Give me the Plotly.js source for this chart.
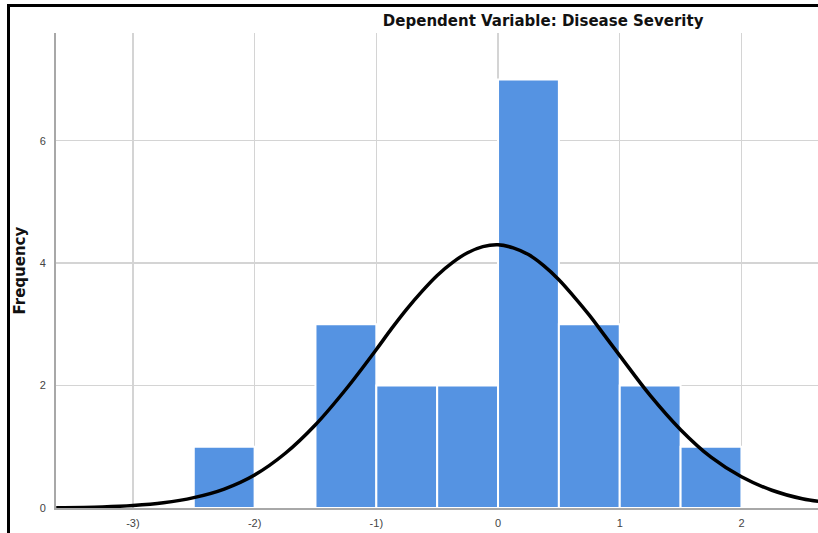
<!DOCTYPE html>
<html>
<head>
<meta charset="utf-8">
<script src="https://cdn.plot.ly/plotly-3.0.1.min.js"></script>
<style>
html,body{margin:0;padding:0;background:#fff;}
#wrap{position:relative;width:818px;height:533px;overflow:hidden;}
#chart{position:absolute;left:0;top:0;width:818px;height:533px;}
#frame{position:absolute;left:7px;top:4px;width:830px;height:560px;border-left:3px solid #000;border-top:3px solid #000;pointer-events:none;}
</style>
</head>
<body>
<div id="wrap"><div id="chart"></div><div id="frame"></div></div>
<script>
// Histogram bins (centers, width 0.5) and frequencies
const binCenters = [-2.25, -1.75, -1.25, -0.75, -0.25, 0.25, 0.75, 1.25, 1.75];
const frequencies = [1, 0, 3, 2, 2, 7, 3, 2, 1];
const binWidth = 0.5;

// Normal curve points
const curveX = [-3.63, -3.25, -3.0, -2.75, -2.5, -2.25, -2.0, -1.75, -1.5, -1.25, -1.0, -0.875, -0.75, -0.625, -0.5, -0.375, -0.25, -0.125, 0.0, 0.125, 0.25, 0.375, 0.5, 0.625, 0.75, 0.875, 1.0, 1.25, 1.5, 1.75, 2.0, 2.25, 2.5, 2.63];
const curveY = [0.005, 0.018, 0.04, 0.085, 0.17, 0.31, 0.54, 0.89, 1.36, 1.94, 2.59, 2.93, 3.25, 3.54, 3.80, 4.01, 4.17, 4.27, 4.30, 4.25, 4.14, 3.96, 3.73, 3.45, 3.15, 2.82, 2.49, 1.84, 1.28, 0.83, 0.51, 0.29, 0.15, 0.11];

// Tick labels
const xTickVals = [-3, -2, -1, 0, 1, 2];
const xTickText = ['-3)', '-2)', '-1)', '0', '1', '2'];
const yTickVals = [0, 2, 4, 6];

const titleText = 'Dependent Variable: Disease Severity';
const yTitleText = 'Frequency';

const font = 'Liberation Sans, Arial, sans-serif';
const titleFont = 'DejaVu Sans, Verdana, sans-serif';

const traces = [
  {
    type: 'bar',
    x: binCenters,
    y: frequencies,
    width: binCenters.map(() => binWidth),
    marker: {color: '#5593e2', line: {color: '#ffffff', width: 2}},
    hoverinfo: 'skip'
  },
  {
    type: 'scatter',
    mode: 'lines',
    x: curveX,
    y: curveY,
    line: {color: '#000000', width: 3.5, shape: 'spline', smoothing: 1.0},
    hoverinfo: 'skip'
  }
];

const layout = {
  width: 818,
  height: 533,
  margin: {l: 56, r: 0, t: 33, b: 25, pad: 0},
  paper_bgcolor: '#ffffff',
  plot_bgcolor: '#ffffff',
  showlegend: false,
  bargap: 0,
  font: {family: font, color: '#333333', size: 10},
  title: {
    text: titleText,
    font: {family: titleFont, size: 15, color: '#111111', weight: 'bold'},
    x: 0.664, xanchor: 'center', xref: 'container',
    y: 0.962, yanchor: 'middle', yref: 'container'
  },
  xaxis: {
    range: [-3.632, 2.629],
    tickvals: xTickVals,
    ticktext: xTickText,
    showgrid: true,
    gridcolor: '#d4d4d4',
    gridwidth: 1.5,
    zeroline: false,
    showline: true,
    linecolor: '#a8a8a8',
    linewidth: 2,
    ticks: '',
    ticklabelstandoff: 4,
    tickfont: {family: font, size: 11, color: '#444444'},
    fixedrange: true
  },
  yaxis: {
    range: [0, 7.76],
    tickvals: yTickVals,
    showgrid: true,
    gridcolor: '#d4d4d4',
    gridwidth: 1.5,
    zeroline: false,
    showline: true,
    linecolor: '#a8a8a8',
    linewidth: 2,
    ticks: '',
    ticklabelstandoff: 6,
    tickfont: {family: font, size: 11, color: '#444444'},
    fixedrange: true
  },
  annotations: [
    {
      text: '<b>' + yTitleText + '</b>',
      xref: 'paper', yref: 'paper',
      x: -0.0485, y: 0.5,
      xanchor: 'center', yanchor: 'middle',
      textangle: -90,
      showarrow: false,
      font: {family: titleFont, size: 15, color: '#111111'}
    }
  ]
};

Plotly.newPlot('chart', traces, layout, {displayModeBar: false, staticPlot: true});
</script>
</body>
</html>
